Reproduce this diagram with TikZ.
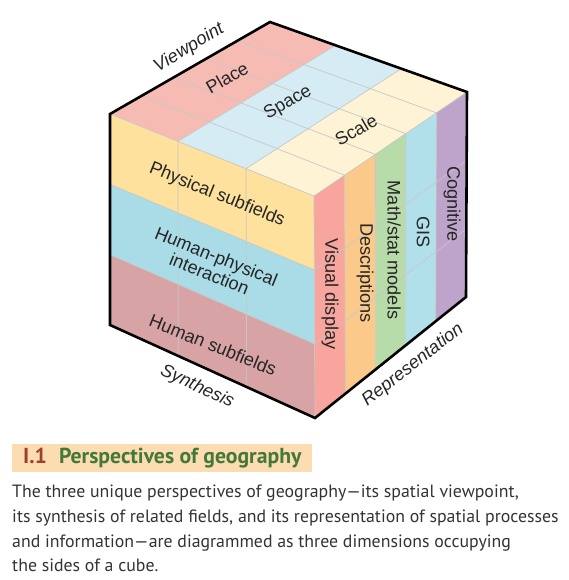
\documentclass[tikz,border=0pt]{standalone}
\usepackage{fontspec}
\setmainfont{Liberation Sans}
\newfontfamily\capfont[Ligatures=TeX]{PT Sans}
\usetikzlibrary{calc}

\definecolor{placecol}{HTML}{F6BCB4}
\definecolor{spacecol}{HTML}{D5ECF5}
\definecolor{scalecol}{HTML}{FEF3D4}
\definecolor{physcol}{HTML}{FDE19C}
\definecolor{intercol}{HTML}{A9DCE7}
\definecolor{humancol}{HTML}{D7A3A4}
\definecolor{viscol}{HTML}{F7A59D}
\definecolor{desccol}{HTML}{FBCA8B}
\definecolor{mathcol}{HTML}{B7DBA9}
\definecolor{giscol}{HTML}{B1E0EB}
\definecolor{cogcol}{HTML}{BEA4CA}
\definecolor{boxcol}{HTML}{FBDDB1}
\definecolor{numcol}{HTML}{A0402A}
\definecolor{titlecol}{HTML}{44773A}
\definecolor{textcol}{HTML}{333333}

\begin{document}
\begin{tikzpicture}[x=0.03cm,y=-0.03cm,
  grid/.style={draw=black!22,line width=0.6pt},
  rim/.style={draw=black,line width=2.2pt,line join=miter},
  lbl/.style={font=\fontsize{15.5}{16}\selectfont,inner sep=0pt,text=black!85},
  axislbl/.style={font=\fontsize{15.5}{16}\selectfont\itshape,inner sep=0pt,text=black!85},
  bodyline/.style={anchor=base west,inner sep=0pt,text=textcol,font=\capfont\fontsize{15.2}{17}\selectfont}]

\useasboundingbox (0,0) rectangle (569,580);

% cube corners
\coordinate (B) at (270,22);
\coordinate (L) at (110,114);
\coordinate (R) at (467,92);
\coordinate (F) at (314,196);
\coordinate (LB) at (110,325);
\coordinate (FB) at (315,418);
\coordinate (RB) at (466,297);

% top face: viewpoint
\foreach \a/\b/\c in {0/0.3333/placecol,0.3333/0.6667/spacecol,0.6667/1/scalecol}
  \fill[\c] ($(L)!\a!(F)$) -- ($(B)!\a!(R)$) -- ($(B)!\b!(R)$) -- ($(L)!\b!(F)$) -- cycle;
% left face: synthesis
\foreach \a/\b/\c in {0/0.3333/physcol,0.3333/0.6667/intercol,0.6667/1/humancol}
  \fill[\c] ($(L)!\a!(LB)$) -- ($(F)!\a!(FB)$) -- ($(F)!\b!(FB)$) -- ($(L)!\b!(LB)$) -- cycle;
% right face: representation
\foreach \a/\b/\c in {0/0.2/viscol,0.2/0.4/desccol,0.4/0.6/mathcol,0.6/0.8/giscol,0.8/1/cogcol}
  \fill[\c] ($(F)!\a!(R)$) -- ($(FB)!\a!(RB)$) -- ($(FB)!\b!(RB)$) -- ($(F)!\b!(R)$) -- cycle;

% grid
\foreach \t in {0.3333,0.6667}{
  \draw[grid] ($(L)!\t!(F)$) -- ($(B)!\t!(R)$);
  \draw[grid] ($(L)!\t!(F)$) -- ($(LB)!\t!(FB)$);
  \draw[grid] ($(L)!\t!(LB)$) -- ($(F)!\t!(FB)$) -- ($(R)!\t!(RB)$);
}
\foreach \t in {0.2,0.4,0.6,0.8}{
  \draw[grid] ($(L)!\t!(B)$) -- ($(F)!\t!(R)$) -- ($(FB)!\t!(RB)$);
}
\draw[grid] (L) -- (F) -- (R);
\draw[grid] (F) -- (FB);

\draw[rim] (LB) -- (L) -- (B) -- (R) -- (RB) -- (FB) -- cycle;

% labels
\node[lbl,rotate=30] (place) at (227,78) {Place};
\node[lbl,rotate=30] (space) at (288,103) {Space};
\node[lbl,rotate=30] (scale) at (356,130) {Scale};

\node[lbl,rotate=-21.9] (phys) at (217,195) {Physical subfields};
\node[lbl,rotate=-21.9,align=center] (inter) at (213,265) {Human-physical\\interaction};
\node[lbl,rotate=-21.9] (human) at (213,345) {Human subfields};

\node[lbl,rotate=-90] (vis) at (330,294) {Visual display};
\node[lbl,rotate=-90] (desc) at (365,273) {Descriptions};
\node[lbl,rotate=-90] (math) at (394,250) {Math/stat models};
\node[lbl,rotate=-90] (gis) at (423,232) {GIS};
\node[lbl,rotate=-90] (cog) at (452,204) {Cognitive};

\node[axislbl,rotate=31] (viewpoint) at (189,48) {Viewpoint};
\node[axislbl,rotate=-24.6] (synthesis) at (197,387) {Synthesis};
\node[axislbl,rotate=38] (represent) at (413,365) {Representation};

% caption
\node[fill=boxcol,anchor=north west,inner xsep=0.33cm,inner ysep=0pt,
  minimum height=0.84cm,font=\capfont\bfseries\fontsize{18.5}{19}\selectfont,text=titlecol]
  (title) at (12,444) {\textcolor{numcol}{I.1}\hspace{0.3em} Perspectives of geography};

\node[bodyline] (line1) at (12,497) {The three unique perspectives of geography—its spatial viewpoint,};
\node[bodyline] (line2) at (12,522) {its synthesis of related fields, and its representation of spatial processes};
\node[bodyline] (line3) at (12,547) {and information—are diagrammed as three dimensions occupying};
\node[bodyline] (line4) at (12,571) {the sides of a cube.};

\end{tikzpicture}
\end{document}
